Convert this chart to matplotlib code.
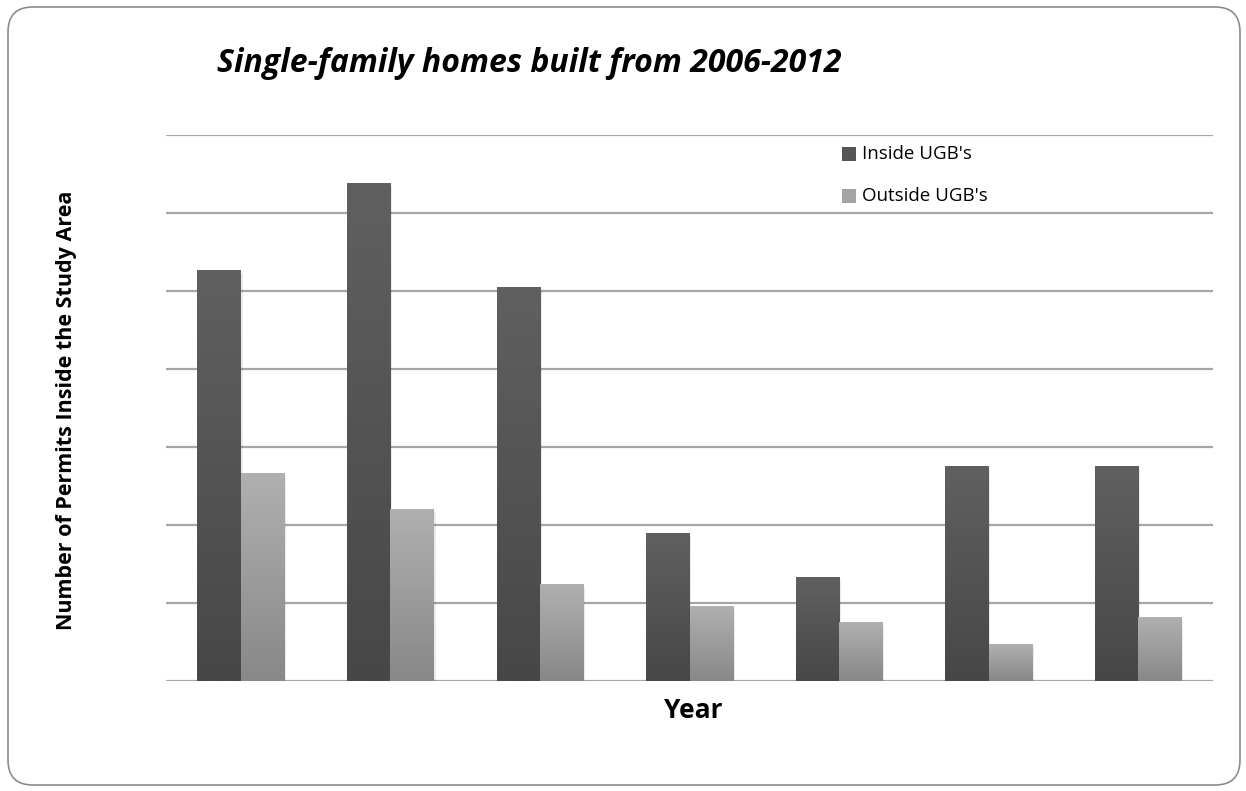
import matplotlib.pyplot as plt
import numpy as np
from matplotlib.patches import FancyBboxPatch, Rectangle

years = ['2006', '2007', '2008', '2009', '2010', '2011', '2012']
inside = [527, 638, 505, 190, 133, 276, 276]
outside = [267, 221, 124, 96, 76, 47, 82]

plt.rcParams['font.family'] = ['Open Sans', 'DejaVu Sans']

fig = plt.figure(figsize=(12.46, 7.91), dpi=100)
ax = fig.add_axes([166/1246, 1 - 681/791, 1047/1246, (681-135)/791])

# rounded outer frame
frame = FancyBboxPatch((8/1246, 6/791), 1232/1246, 778/791,
                       boxstyle='round,pad=0,rounding_size=0.02',
                       transform=fig.transFigure, fc='white', ec='#8c8c8c', lw=1.2,
                       zorder=-10, mutation_aspect=1246/791)
fig.patches.append(frame)

x = np.arange(len(years))
w = 0.29

def gradient_bars(xs, vals, top, bottom):
    bars = ax.bar(xs, vals, w, color='none', edgecolor='none', zorder=3)
    grad = np.linspace(top, bottom, 256).reshape(-1, 1)
    for b in bars:
        x0, y0 = b.get_x(), b.get_y()
        bw, bh = b.get_width(), b.get_height()
        # soft shadow
        ax.add_patch(Rectangle((x0 + 0.012, y0 - 4), bw, bh, fc='#000000', alpha=0.08,
                               ec='none', zorder=2))
        im = ax.imshow(np.dstack([grad, grad, grad]), extent=[x0, x0 + bw, y0, y0 + bh],
                       aspect='auto', zorder=3, interpolation='bilinear')
        im.set_clip_path(b)
    return bars

gradient_bars(x - w/2, inside, 0x60/255, 0x47/255)
gradient_bars(x + w/2, outside, 0xb0/255, 0x88/255)

ax.set_xlim(-0.5, len(years) - 0.5)
ax.set_ylim(0, 700)
ax.set_yticks(range(0, 701, 100))
ax.yaxis.grid(True, color='#a6a6a6', lw=1.6, zorder=1)
ax.set_axisbelow(True)
ax.set_xticks([])
ax.tick_params(axis='y', length=0, labelleft=False)
for s in ax.spines.values():
    s.set_visible(False)

fig.text(529/1246, 1 - 64/791, 'Single-family homes built from 2006-2012',
         ha='center', va='center', fontsize=23, fontweight='bold', fontstyle='italic')
fig.text(67/1246, 1 - 410/791, 'Number of Permits Inside the Study Area',
         ha='center', va='center', rotation=90, fontsize=15.5, fontweight='bold')
fig.text(693/1246, 1 - 710/791, 'Year', ha='center', va='center', fontsize=19, fontweight='bold')

# legend
for yy, c, lab in [(154, '#555555', "Inside UGB's"), (196, '#a4a4a4', "Outside UGB's")]:
    fig.patches.append(Rectangle((842/1246, 1 - (yy + 7)/791), 14/1246, 14/791,
                                 transform=fig.transFigure, fc=c, ec='none'))
    fig.text(862/1246, 1 - yy/791, lab, ha='left', va='center', fontsize=13.5)

fig.savefig('out.png', dpi=100)
